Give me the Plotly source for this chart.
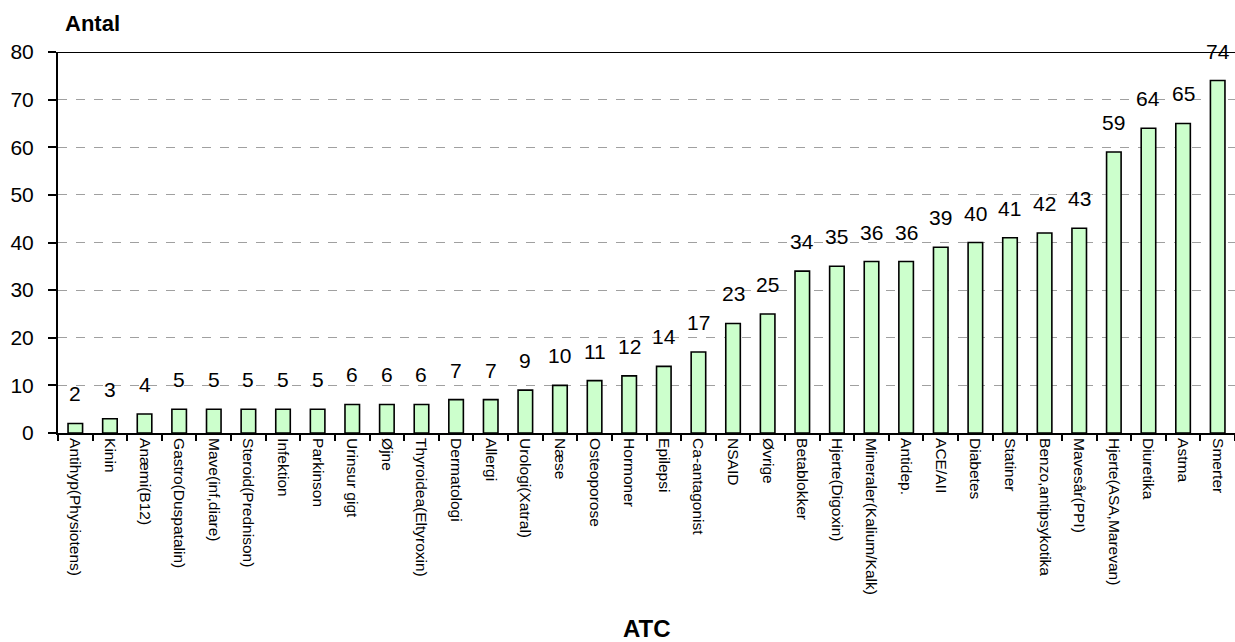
import plotly.graph_objects as go

categories = [
    "Antihyp(Physiotens)", "Kinin", "Anæmi(B12)", "Gastro(Duspatalin)", "Mave(inf,diare)",
    "Steroid(Prednison)", "Infektion", "Parkinson", "Urinsur gigt", "Øjne",
    "Thyroidea(Eltyroxin)", "Dermatologi", "Allergi", "Urologi(Xatral)", "Næse",
    "Osteoporose", "Hormoner", "Epilepsi", "Ca-antagonist", "NSAID", "Øvrige",
    "Betablokker", "Hjerte(Digoxin)", "Mineraler(Kalium/Kalk)", "Antidep.", "ACE/AII",
    "Diabetes", "Statiner", "Benzo,antipsykotika", "Mavesår(PPI)", "Hjerte(ASA,Marevan)",
    "Diuretika", "Astma", "Smerter",
]
antal = [2, 3, 4, 5, 5, 5, 5, 5, 6, 6, 6, 7, 7, 9, 10, 11, 12, 14, 17, 23, 25,
         34, 35, 36, 36, 39, 40, 41, 42, 43, 59, 64, 65, 74]
y_ticks = [0, 10, 20, 30, 40, 50, 60, 70, 80]

FONT = "Liberation Sans, Arial, sans-serif"

fig = go.Figure()
fig.add_trace(go.Bar(
    x=categories, y=antal,
    marker=dict(color="#CCFFCC", line=dict(color="black", width=1.6)),
    width=0.42,
    hoverinfo="x+y",
))

# value labels above each bar
for c, v in zip(categories, antal):
    fig.add_annotation(x=c, y=v, text=str(v), showarrow=False,
                       yanchor="bottom", yshift=16,
                       font=dict(family=FONT, size=21, color="black"))

# solid frame line along the top of the plot area
fig.add_shape(type="line", xref="paper", yref="y", x0=0, x1=1, y0=80, y1=80,
              line=dict(color="black", width=2))

# axis titles
fig.add_annotation(xref="paper", yref="paper", x=0.004, y=1.074, xanchor="left",
                   yanchor="middle", text="<b>Antal</b>", showarrow=False,
                   font=dict(family=FONT, size=22, color="black"))
fig.add_annotation(xref="paper", yref="paper", x=0.5, y=-0.514, xanchor="center",
                   yanchor="middle", text="<b>ATC</b>", showarrow=False,
                   font=dict(family=FONT, size=24, color="black"))

fig.update_layout(
    width=1235, height=642,
    margin=dict(l=58, r=0, t=52, b=209),
    paper_bgcolor="white", plot_bgcolor="white",
    showlegend=False,
    font=dict(family=FONT, color="black"),
    xaxis=dict(
        type="category", tickangle=90,
        tickfont=dict(family=FONT, size=15.5, color="black"),
        showline=True, linecolor="black", linewidth=2,
        ticks="outside", tickson="boundaries", ticklen=6, tickwidth=2, tickcolor="black",
        showgrid=False,
    ),
    yaxis=dict(
        range=[0, 80], tickvals=y_ticks,
        tickfont=dict(family=FONT, size=21, color="black"),
        showline=True, linecolor="black", linewidth=2,
        ticks="outside", ticklen=8, tickwidth=2, tickcolor="black",
        ticklabelstandoff=10,
        showgrid=True, gridcolor="#A0A0A0", griddash="dash", gridwidth=1,
        zeroline=False,
    ),
)

fig.write_html("out.html")
